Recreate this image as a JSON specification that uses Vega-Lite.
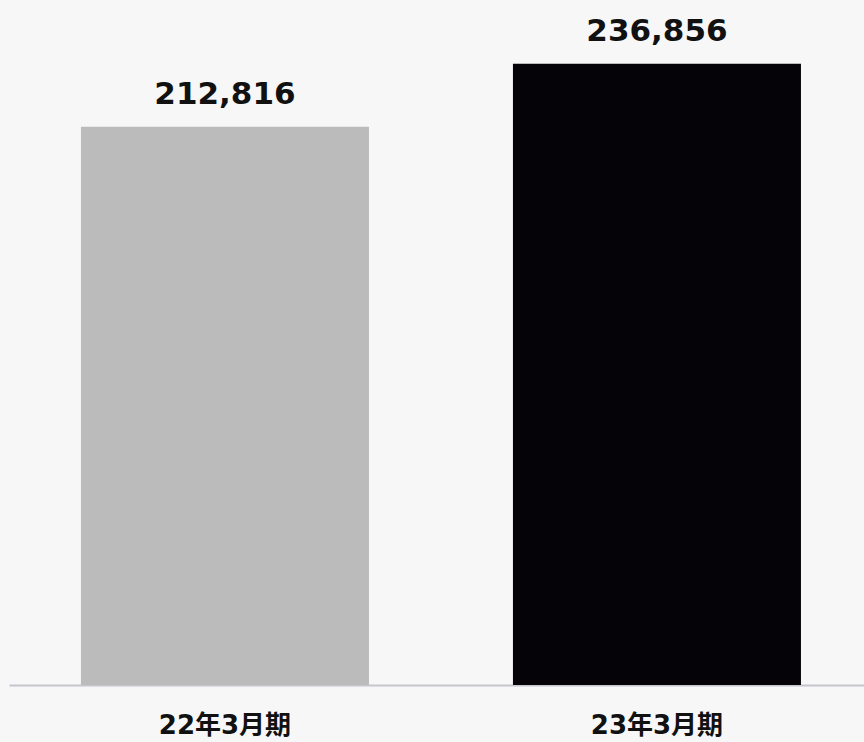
{
  "$schema": "https://vega.github.io/schema/vega-lite/v6.json",
  "autosize": "none",
  "width": 855,
  "height": 682,
  "padding": {"left": 9, "top": 3, "right": 0, "bottom": 57},
  "background": "#f7f7f7",
  "config": {"view": {"stroke": null}, "font": "DejaVu Sans"},
  "data": {"values": [
    {"period": "22年3月期", "value": 212816, "color": "#bbbbbb"},
    {"period": "23年3月期", "value": 236856, "color": "#050308"}
  ]},
  "encoding": {
    "x": {"field": "period", "type": "nominal", "sort": null,
      "scale": {"paddingInner": 0.3333, "paddingOuter": 0.15625, "align": 0.533},
      "axis": {"title": null, "labelAngle": 0, "ticks": false, "domainColor": "#c6c6ce", "domainWidth": 2,
        "labelFont": "DejaVu Sans, Noto Sans CJK JP", "labelFontWeight": "bold", "labelFontSize": 26, "labelColor": "#111111",
        "labelBaseline": "top", "labelPadding": 27}},
    "y": {"field": "value", "type": "quantitative", "scale": {"domain": [0, 260000]}, "axis": null}
  },
  "layer": [
    {"mark": {"type": "bar"}, "encoding": {"color": {"field": "color", "type": "nominal", "scale": null}}},
    {"mark": {"type": "text", "baseline": "alphabetic", "dy": -23, "fontSize": 31, "fontWeight": "bold", "color": "#111111"},
      "encoding": {"text": {"field": "value", "type": "quantitative", "format": ","}}}
  ]
}
